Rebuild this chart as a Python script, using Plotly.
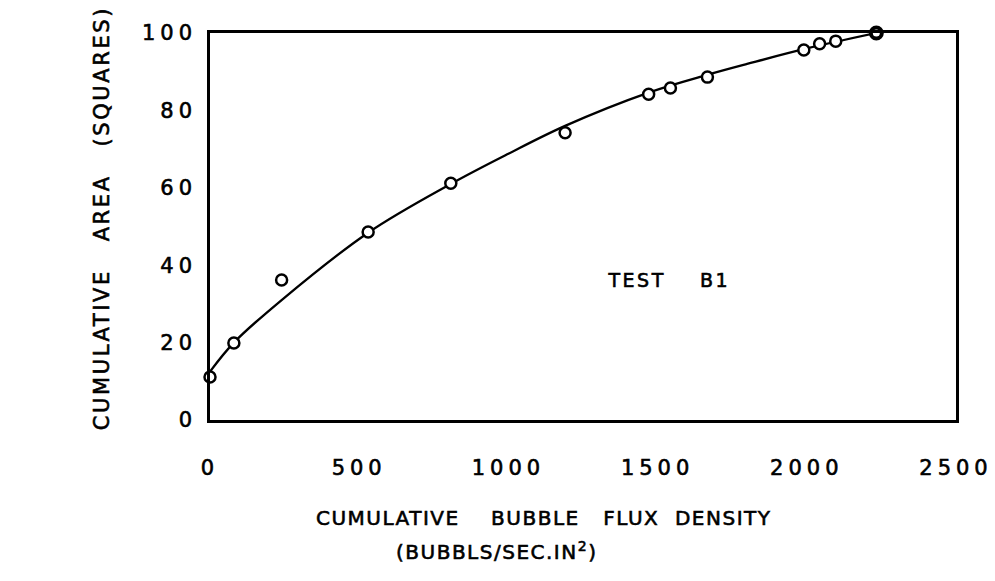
import plotly.graph_objects as go

# Measured points: cumulative bubble flux density vs cumulative area
flux = [0, 80, 240, 530, 807, 1190, 1470, 1543, 1667, 1990, 2043, 2097, 2233]
area = [11.1, 19.9, 36.2, 48.6, 61.2, 74.2, 84.2, 85.8, 88.6, 95.6, 97.2, 97.9, 100.0]

# Hand-faired curve through the data
curve_x = [0, 80, 240, 530, 807, 1000, 1190, 1470, 1667, 1800, 2000, 2233]
curve_y = [12.5, 20.0, 31.0, 48.4, 61.0, 68.8, 76.0, 84.6, 89.2, 92.0, 96.0, 100.0]

x_ticks = [0, 500, 1000, 1500, 2000, 2500]
y_ticks = [0, 20, 40, 60, 80, 100]

FONT = "DejaVu Sans"
W, H = 995, 581
L, R, T, B = 210, 35, 33, 161
PW, PH = W - L - R, H - T - B


def paper_xy(px, py):
    """Convert a pixel position on the page to paper coordinates."""
    return (px - L) / PW, (H - B - py) / PH


fig = go.Figure()
fig.add_trace(go.Scatter(
    x=curve_x, y=curve_y, mode="lines",
    line=dict(color="black", width=2.3, shape="spline", smoothing=1.0),
    hoverinfo="skip", showlegend=False,
))
fig.add_trace(go.Scatter(
    x=flux, y=area, mode="markers",
    marker=dict(symbol="circle", size=11, color="white",
                line=dict(color="black",
                          width=[2.5] * (len(flux) - 1) + [4])),
    showlegend=False, cliponaxis=False,
))

yt_x, yt_y = paper_xy(101, 218)
xt1_x, xt1_y = paper_xy(546, 518)
xt2_x, xt2_y = paper_xy(498, 551)

fig.update_layout(
    width=W, height=H,
    margin=dict(l=L, r=R, t=T, b=B),
    paper_bgcolor="white", plot_bgcolor="white",
    font=dict(family=FONT, color="black"),
    xaxis=dict(
        range=[0, 2500], tickvals=x_ticks, ticktext=[str(v) for v in x_ticks],
        showgrid=False, zeroline=False, showline=True, mirror=True,
        linecolor="black", linewidth=2.6, ticks="",
        tickfont=dict(size=21, family=FONT), ticklabelstandoff=27,
    ),
    yaxis=dict(
        range=[0, 100], tickvals=y_ticks, ticktext=[str(v) for v in y_ticks],
        showgrid=False, zeroline=False, showline=True, mirror=True,
        linecolor="black", linewidth=2.6, ticks="",
        tickfont=dict(size=21, family=FONT), ticklabelstandoff=6,
    ),
    annotations=[
        dict(text="TEST    B1", x=1537, y=36.2, xref="x", yref="y",
             showarrow=False, font=dict(size=19, family=FONT)),
        dict(text="CUMULATIVE   AREA   (SQUARES)", x=yt_x, y=yt_y,
             xref="paper", yref="paper", showarrow=False, textangle=-90,
             xanchor="center", yanchor="middle",
             font=dict(size=21, family=FONT)),
        dict(text="CUMULATIVE    BUBBLE   FLUX  DENSITY", x=xt1_x, y=xt1_y,
             xref="paper", yref="paper", showarrow=False,
             xanchor="center", yanchor="middle",
             font=dict(size=20, family=FONT)),
        dict(text="(BUBBLS/SEC.IN<sup>2</sup>)", x=xt2_x, y=xt2_y,
             xref="paper", yref="paper", showarrow=False,
             xanchor="center", yanchor="middle",
             font=dict(size=20, family=FONT)),
    ],
)

# Lettering style: wide spacing and a slightly heavier stroke
lettering_css = """
.main-svg text { stroke: #000 !important; stroke-width: 0.6px !important; }
.xtick text, .ytick text { letter-spacing: 5px !important; }
.annotation[data-index="0"] .annotation-text { letter-spacing: 2.5px !important; }
.annotation[data-index="1"] .annotation-text { letter-spacing: 2.6px !important; }
.annotation[data-index="2"] .annotation-text { letter-spacing: 1.5px !important; }
.annotation[data-index="3"] .annotation-text { letter-spacing: 1.5px !important; }
"""
post_js = (
    "var s=document.createElement('style');"
    "s.textContent=" + repr(lettering_css).replace("\\n", " ") + ";"
    "document.head.appendChild(s);"
)

fig.write_html("out.html", post_script=post_js)
